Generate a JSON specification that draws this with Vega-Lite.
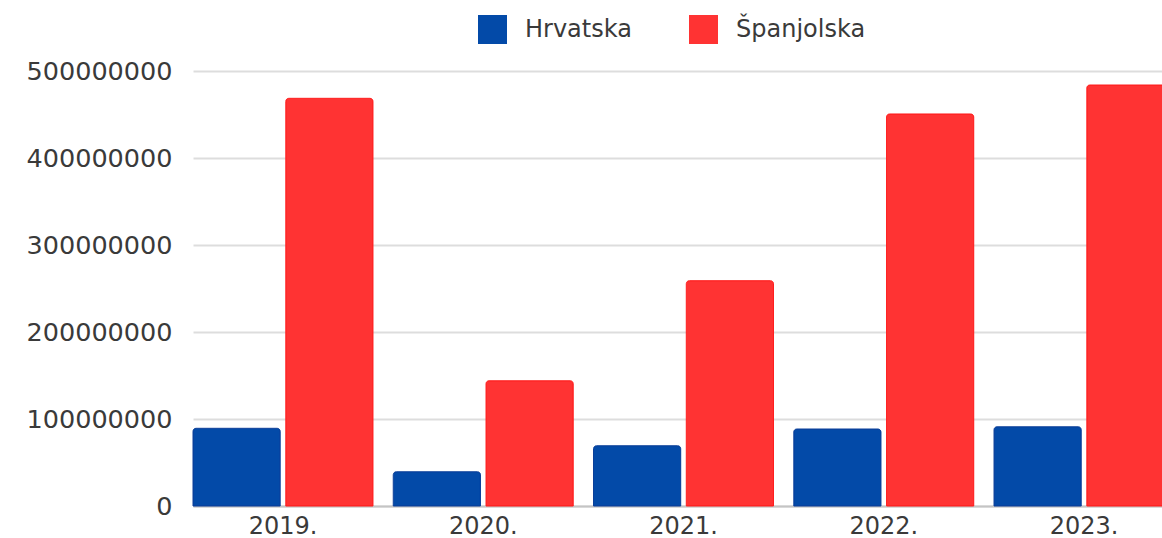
{
  "$schema": "https://vega.github.io/schema/vega-lite/v6.json",
  "autosize": {"type": "none"},
  "width": 969,
  "height": 435,
  "padding": {"left": 193, "top": 71, "right": 0, "bottom": 32},
  "background": "white",
  "config": {
    "view": {"stroke": null},
    "font": "DejaVu Sans",
    "axis": {"labelFont": "DejaVu Sans", "labelFontSize": 24, "labelColor": "#3a3a3a"},
    "legend": {"labelFont": "DejaVu Sans", "labelFontSize": 24, "labelColor": "#3a3a3a"}
  },
  "data": {
    "values": [
      {"godina": "2019.", "zemlja": "Hrvatska", "vrijednost": 89300000},
      {"godina": "2019.", "zemlja": "Španjolska", "vrijednost": 468600000},
      {"godina": "2020.", "zemlja": "Hrvatska", "vrijednost": 39400000},
      {"godina": "2020.", "zemlja": "Španjolska", "vrijednost": 144000000},
      {"godina": "2021.", "zemlja": "Hrvatska", "vrijednost": 69300000},
      {"godina": "2021.", "zemlja": "Španjolska", "vrijednost": 259000000},
      {"godina": "2022.", "zemlja": "Hrvatska", "vrijednost": 88500000},
      {"godina": "2022.", "zemlja": "Španjolska", "vrijednost": 450600000},
      {"godina": "2023.", "zemlja": "Hrvatska", "vrijednost": 91100000},
      {"godina": "2023.", "zemlja": "Španjolska", "vrijednost": 483900000}
    ]
  },
  "mark": {
    "type": "bar",
    "cornerRadiusTopLeft": 3,
    "cornerRadiusTopRight": 3,
    "strokeWidth": 1
  },
  "encoding": {
    "x": {
      "field": "godina",
      "type": "nominal",
      "sort": null,
      "scale": {"range": [0, 981], "paddingInner": 0.1013, "paddingOuter": 0},
      "axis": {
        "title": null,
        "labelAngle": 0,
        "ticks": false,
        "domain": true,
        "domainColor": "#c4c4c4",
        "domainWidth": 2,
        "labelPadding": 8,
        "grid": false
      }
    },
    "xOffset": {
      "field": "zemlja",
      "type": "nominal",
      "scale": {"paddingInner": 0.06, "paddingOuter": 0}
    },
    "y": {
      "field": "vrijednost",
      "type": "quantitative",
      "scale": {"domain": [0, 500000000], "nice": false},
      "axis": {
        "title": null,
        "values": [0, 100000000, 200000000, 300000000, 400000000, 500000000],
        "format": "d",
        "ticks": false,
        "domain": false,
        "grid": true,
        "gridColor": "#dddddd",
        "gridWidth": 2,
        "labelFontSize": 25.5,
        "labelPadding": 21
      }
    },
    "color": {
      "field": "zemlja",
      "type": "nominal",
      "scale": {"domain": ["Hrvatska", "Španjolska"], "range": ["#034aa8", "#ff3333"]},
      "legend": {
        "title": null,
        "orient": "none",
        "direction": "horizontal",
        "legendX": 285,
        "legendY": -56,
        "symbolType": "square",
        "symbolSize": 840,
        "symbolStrokeWidth": 0,
        "labelOffset": 18,
        "columnPadding": 57,
        "padding": 0
      }
    },
    "stroke": {
      "field": "zemlja",
      "type": "nominal",
      "scale": {"domain": ["Hrvatska", "Španjolska"], "range": ["#0a3f9a", "#ff1f1f"]},
      "legend": null
    }
  }
}
